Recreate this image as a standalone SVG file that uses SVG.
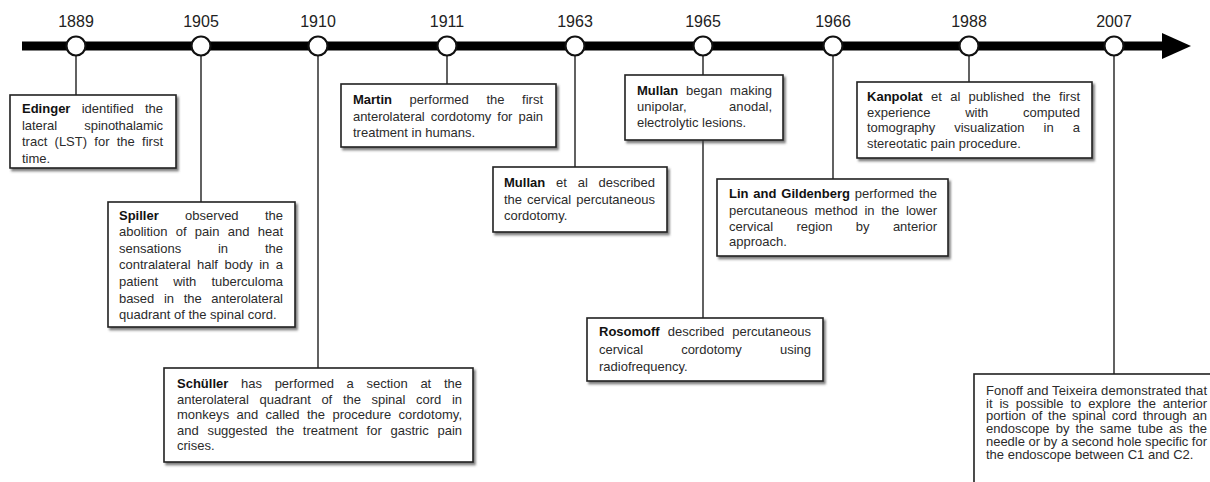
<svg xmlns="http://www.w3.org/2000/svg" width="1210" height="482" viewBox="0 0 1210 482">
<style>
.yr{font-family:"Liberation Sans",Arial,sans-serif;font-size:16px;fill:#222;text-anchor:middle}
.t{font-family:"Liberation Sans",Arial,sans-serif;font-size:13px;fill:#2b2b2b}
.b{font-weight:bold;fill:#111}
.box{fill:#fff;stroke:#222;stroke-width:1.6;filter:url(#sh)}
.con{stroke:#3a3a3a;stroke-width:1.6;fill:none}
.dot{fill:#fff;stroke:#111;stroke-width:2.2}
</style>
<defs>
<filter id="sh" x="-5%" y="-5%" width="115%" height="120%">
<feDropShadow dx="2" dy="2.5" stdDeviation="1.2" flood-color="#444" flood-opacity="0.7"/>
</filter>
</defs>
<rect width="1210" height="482" fill="#fff"/>
<g id="connectors">
<line class="con" x1="76" y1="50" x2="76" y2="95"/>
<line class="con" x1="201" y1="50" x2="201" y2="202"/>
<line class="con" x1="318" y1="50" x2="318" y2="368"/>
<line class="con" x1="447" y1="50" x2="447" y2="84"/>
<line class="con" x1="575" y1="50" x2="575" y2="167"/>
<line class="con" x1="703" y1="50" x2="703" y2="318"/>
<line class="con" x1="833" y1="50" x2="833" y2="179"/>
<line class="con" x1="969" y1="50" x2="969" y2="82"/>
<line class="con" x1="1114" y1="50" x2="1114" y2="374"/>
</g>
<g id="timeline">
<rect x="22" y="41.5" width="1143" height="9" fill="#000"/>
<polygon points="1162,33 1191,46 1162,59" fill="#000"/>
<circle class="dot" cx="76" cy="46" r="9.5"/>
<circle class="dot" cx="201" cy="46" r="9.5"/>
<circle class="dot" cx="318" cy="46" r="9.5"/>
<circle class="dot" cx="447" cy="46" r="9.5"/>
<circle class="dot" cx="575" cy="46" r="9.5"/>
<circle class="dot" cx="703" cy="46" r="9.5"/>
<circle class="dot" cx="833" cy="46" r="9.5"/>
<circle class="dot" cx="969" cy="46" r="9.5"/>
<circle class="dot" cx="1114" cy="46" r="9.5"/>
<text class="yr" x="76" y="27">1889</text>
<text class="yr" x="201" y="27">1905</text>
<text class="yr" x="318" y="27">1910</text>
<text class="yr" x="447" y="27">1911</text>
<text class="yr" x="575" y="27">1963</text>
<text class="yr" x="703" y="27">1965</text>
<text class="yr" x="833" y="27">1966</text>
<text class="yr" x="969" y="27">1988</text>
<text class="yr" x="1114" y="27">2007</text>
</g>
<g id="edinger">
<rect class="box" x="10" y="95" width="166" height="73"/>
<text class="t" x="22" y="112.8" word-spacing="7.6" textLength="141"><tspan class="b">Edinger</tspan> identified the</text>
<text class="t" x="22" y="129.5" word-spacing="23.8" textLength="141">lateral spinothalamic</text>
<text class="t" x="22" y="146.2" word-spacing="3.6" textLength="141">tract (LST) for the first</text>
<text class="t" x="22" y="162.8">time.</text>
</g>
<g id="spiller">
<rect class="box" x="108" y="202" width="187" height="125"/>
<text class="t" x="119" y="219.5" word-spacing="22.7" textLength="164"><tspan class="b">Spiller</tspan> observed the</text>
<text class="t" x="119" y="236.1" word-spacing="4.7" textLength="164">abolition of pain and heat</text>
<text class="t" x="119" y="252.7" word-spacing="33.2" textLength="164">sensations in the</text>
<text class="t" x="119" y="269.3" word-spacing="2.9" textLength="164">contralateral half body in a</text>
<text class="t" x="119" y="285.9" word-spacing="11.5" textLength="164">patient with tuberculoma</text>
<text class="t" x="119" y="302.5" word-spacing="6.2" textLength="164">based in the anterolateral</text>
<text class="t" x="119" y="319.1">quadrant of the spinal cord.</text>
</g>
<g id="schuller">
<rect class="box" x="164" y="368" width="309" height="94"/>
<text class="t" x="177" y="388" word-spacing="9.1" textLength="285"><tspan class="b">Schüller</tspan> has performed a section at the</text>
<text class="t" x="177" y="403.5" word-spacing="7.1" textLength="285">anterolateral quadrant of the spinal cord in</text>
<text class="t" x="177" y="419" word-spacing="3.7" textLength="285">monkeys and called the procedure cordotomy,</text>
<text class="t" x="177" y="434.5" word-spacing="5.1" textLength="285">and suggested the treatment for gastric pain</text>
<text class="t" x="177" y="450">crises.</text>
</g>
<g id="martin">
<rect class="box" x="341" y="84" width="215" height="63"/>
<text class="t" x="353" y="104" word-spacing="14" textLength="190"><tspan class="b">Martin</tspan> performed the first</text>
<text class="t" x="353" y="120.5" word-spacing="2.6" textLength="190">anterolateral cordotomy for pain</text>
<text class="t" x="353" y="136.5">treatment in humans.</text>
</g>
<g id="mullan1963">
<rect class="box" x="493" y="167" width="174" height="65"/>
<text class="t" x="504" y="187" word-spacing="7.2" textLength="151"><tspan class="b">Mullan</tspan> et al described</text>
<text class="t" x="504" y="203.5" word-spacing="1.4" textLength="151">the cervical percutaneous</text>
<text class="t" x="504" y="220">cordotomy.</text>
</g>
<g id="mullan1965">
<rect class="box" x="625" y="75" width="158" height="65"/>
<text class="t" x="637" y="94.5" word-spacing="4.3" textLength="135"><tspan class="b">Mullan</tspan> began making</text>
<text class="t" x="637" y="111" word-spacing="38.9" textLength="135">unipolar, anodal,</text>
<text class="t" x="637" y="127">electrolytic lesions.</text>
</g>
<g id="rosomoff">
<rect class="box" x="587" y="318" width="236" height="63"/>
<text class="t" x="599" y="336" word-spacing="4.5" textLength="212"><tspan class="b">Rosomoff</tspan> described percutaneous</text>
<text class="t" x="599" y="353.5" word-spacing="34.5" textLength="212">cervical cordotomy using</text>
<text class="t" x="599" y="370.5">radiofrequency.</text>
</g>
<g id="lin">
<rect class="box" x="717" y="179" width="231" height="77"/>
<text class="t" x="729" y="197.8" word-spacing="1.2" textLength="208"><tspan class="b">Lin and Gildenberg</tspan> performed the</text>
<text class="t" x="729" y="214.5" word-spacing="3" textLength="208">percutaneous method in the lower</text>
<text class="t" x="729" y="230.5" word-spacing="19.7" textLength="208">cervical region by anterior</text>
<text class="t" x="729" y="246.2">approach.</text>
</g>
<g id="kanpolat">
<rect class="box" x="857" y="82" width="235" height="76"/>
<text class="t" x="867" y="101" word-spacing="4.7" textLength="213"><tspan class="b">Kanpolat</tspan> et al published the first</text>
<text class="t" x="867" y="116.5" word-spacing="31" textLength="213">experience with computed</text>
<text class="t" x="867" y="132" word-spacing="15.6" textLength="213">tomography visualization in a</text>
<text class="t" x="867" y="147.8">stereotatic pain procedure.</text>
</g>
<g id="fonoff">
<rect class="box" x="974" y="374" width="250" height="118"/>
<text class="t" x="986" y="394.5" textLength="221">Fonoff and Teixeira demonstrated that</text>
<text class="t" x="986" y="407.5" word-spacing="3.3" textLength="221">it is possible to explore the anterior</text>
<text class="t" x="986" y="420.3" word-spacing="2.1" textLength="221">portion of the spinal cord through an</text>
<text class="t" x="986" y="433" word-spacing="2.5" textLength="221">endoscope by the same tube as the</text>
<text class="t" x="986" y="445.8" textLength="221">needle or by a second hole specific for</text>
<text class="t" x="986" y="458.5">the endoscope between C1 and C2.</text>
</g>
</svg>
